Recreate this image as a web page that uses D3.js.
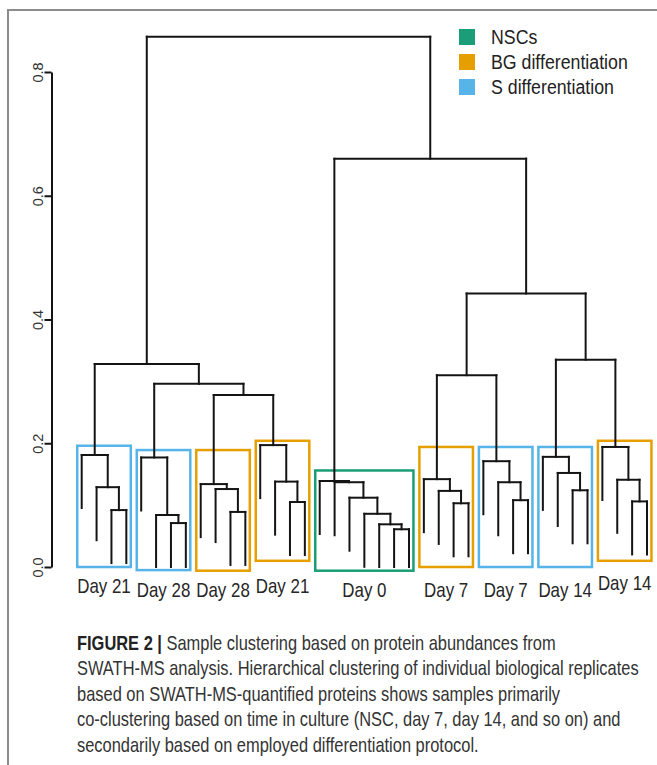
<!DOCTYPE html>
<html>
<head>
<meta charset="utf-8">
<script src="https://cdn.jsdelivr.net/npm/d3@7"></script>
<style>
  html, body { margin: 0; padding: 0; background: #fff; }
  svg { display: block; }
  text { font-family: "Liberation Sans", Arial, Helvetica, sans-serif; }
</style>
</head>
<body>
<svg id="chart" width="657" height="765"></svg>
<script>
// ---------------- DATA ----------------
const leafCount = 39;
// R-style merge table: negative = leaf (plot order), positive = earlier merge (1-based)
const mergeA = [-3, -2, -1, -7, -6, -5, -11, -10, -9, -15, -14, -13,
                -22, -21, -20, -19, -18, -17, -26, -25, -24, -30, -29, -28,
                -34, -33, -32, -38, -37, -36, 9, 6, 3, 21, 27, 34, 18, 33];
const mergeB = [-4, 1, 2, -8, 4, 5, -12, 7, 8, -16, 10, 11,
                -23, 13, 14, 15, 16, 17, -27, 19, 20, -31, 22, 23,
                -35, 25, 26, -39, 28, 29, 12, 31, 32, 24, 30, 35, 36, 37];
const mergeHeight = [0.092, 0.129, 0.181, 0.071, 0.084, 0.177, 0.089, 0.126, 0.134, 0.105, 0.138, 0.197,
                     0.061, 0.069, 0.086, 0.112, 0.137, 0.139, 0.103, 0.123, 0.142, 0.108, 0.137, 0.171,
                     0.124, 0.152, 0.178, 0.106, 0.141, 0.194, 0.278, 0.296, 0.328, 0.310, 0.335, 0.442, 0.660, 0.857];

const groupLabels   = ["Day 21", "Day 28", "Day 28", "Day 21", "Day 0", "Day 7", "Day 7", "Day 14", "Day 14"];
const groupFirst    = [1, 5, 9, 13, 17, 24, 28, 32, 36];
const groupLast     = [4, 8, 12, 16, 23, 27, 31, 35, 39];
const groupProtocol = ["S", "S", "BG", "BG", "NSC", "BG", "S", "S", "BG"];
const boxTop        = [0.196, 0.189, 0.189, 0.204, 0.156, 0.194, 0.194, 0.194, 0.204];
const boxBottom     = [0.000, -0.005, -0.006, 0.010, -0.006, 0.000, 0.000, 0.000, 0.010];

const legendKeys   = ["NSC", "BG", "S"];
const legendLabels = ["NSCs", "BG differentiation", "S differentiation"];
const tickValues   = [0.0, 0.2, 0.4, 0.6, 0.8];

const captionBold = "FIGURE 2 |";
const captionLines = [
  " Sample clustering based on protein abundances from",
  "SWATH-MS analysis. Hierarchical clustering of individual biological replicates",
  "based on SWATH-MS-quantified proteins shows samples primarily",
  "co-clustering based on time in culture (NSC, day 7, day 14, and so on) and",
  "secondarily based on employed differentiation protocol."
];

// ---------------- STYLE ----------------
const colors = { NSC: "#1B9E77", BG: "#E69F00", S: "#56B4E9" };
const labelBaseline = [593, 597, 597, 593, 597, 597, 597, 597, 589.5];
const narrow = 0.845;      // horizontal squeeze to mimic a condensed Helvetica
const captionNarrow = 0.822;

const svg = d3.select("#chart");

// frame lines
svg.append("line").attr("x1", 7).attr("x2", 657).attr("y1", 10).attr("y2", 10)
  .attr("stroke", "#8c8c8c").attr("stroke-width", 2);
svg.append("line").attr("x1", 8).attr("x2", 8).attr("y1", 9).attr("y2", 765)
  .attr("stroke", "#8c8c8c").attr("stroke-width", 2);

// scales
const x = d3.scaleLinear().domain([1, leafCount]).range([81.7, 647]);
const y = d3.scaleLinear().domain([0, 0.8]).range([567, 72]);

// tree geometry
const maxH = d3.max(mergeHeight);
const hang = 0.1 * maxH;
const nodePos = [];
function posOf(c) { return c < 0 ? -c : nodePos[c - 1]; }
mergeHeight.forEach((h, i) => { nodePos[i] = (posOf(mergeA[i]) + posOf(mergeB[i])) / 2; });
function bottomOf(c, h) { return c < 0 ? Math.max(h - hang, 0) : mergeHeight[c - 1]; }

const segs = [];
mergeHeight.forEach((h, i) => {
  const a = mergeA[i], b = mergeB[i];
  segs.push([posOf(a), h, posOf(b), h]);
  segs.push([posOf(a), h, posOf(a), bottomOf(a, h)]);
  segs.push([posOf(b), h, posOf(b), bottomOf(b, h)]);
});

// boxes (drawn under the tree)
const boxPad = 0.3;
svg.append("g").selectAll("rect").data(groupLabels).join("rect")
  .attr("x", (d, i) => x(groupFirst[i] - boxPad))
  .attr("width", (d, i) => x(groupLast[i] + boxPad) - x(groupFirst[i] - boxPad))
  .attr("y", (d, i) => y(boxTop[i]))
  .attr("height", (d, i) => y(boxBottom[i]) - y(boxTop[i]))
  .attr("fill", "none")
  .attr("stroke", (d, i) => colors[groupProtocol[i]])
  .attr("stroke-width", 2.5);

// dendrogram
svg.append("g").selectAll("line").data(segs).join("line")
  .attr("x1", d => x(d[0])).attr("y1", d => y(d[1]))
  .attr("x2", d => x(d[2])).attr("y2", d => y(d[3]))
  .attr("stroke", "#141414").attr("stroke-width", 2).attr("stroke-linecap", "square");

// group labels
svg.append("g").selectAll("g").data(groupLabels).join("g")
  .attr("transform", (d, i) => `translate(${x((groupFirst[i] + groupLast[i]) / 2)},${labelBaseline[i]}) scale(${narrow},1)`)
  .append("text")
  .attr("text-anchor", "middle")
  .attr("font-size", 20)
  .attr("fill", "#262626")
  .text(d => d);

// y axis
const axisX = 51.5;
const gAxis = svg.append("g").attr("transform", `translate(${axisX},0)`)
  .call(d3.axisLeft(y).tickValues(tickValues).tickFormat(d3.format(".1f")).tickSize(7).tickSizeOuter(0));
gAxis.select(".domain").attr("stroke", "#141414").attr("stroke-width", 2);
gAxis.selectAll(".tick line").attr("stroke", "#141414").attr("stroke-width", 2);
gAxis.selectAll(".tick text")
  .attr("transform", "rotate(-90)")
  .attr("x", 0).attr("y", -9).attr("dy", 0)
  .attr("text-anchor", "middle")
  .attr("font-size", 14.5)
  .attr("font-family", "Liberation Sans, Arial, sans-serif")
  .attr("fill", "#333");

// legend
const lg = svg.append("g").selectAll("g").data(legendKeys).join("g")
  .attr("transform", (d, i) => `translate(459, ${29 + i * 25})`);
lg.append("rect").attr("width", 16).attr("height", 16).attr("fill", d => colors[d]);
lg.append("g").attr("transform", `translate(32,15) scale(${narrow},1)`)
  .append("text").attr("font-size", 21).attr("fill", "#222")
  .text((d, i) => legendLabels[i]);

// caption
const cap = svg.append("g")
  .attr("transform", `translate(77,0) scale(${captionNarrow},1)`)
  .attr("font-size", 20).attr("fill", "#333");
captionLines.forEach((line, i) => {
  const t = cap.append("text").attr("x", 0).attr("y", 650 + i * 25.5);
  if (i === 0) {
    t.append("tspan").attr("font-weight", "bold").attr("fill", "#222").text(captionBold);
  }
  t.append("tspan").text(line);
});
</script>
</body>
</html>
